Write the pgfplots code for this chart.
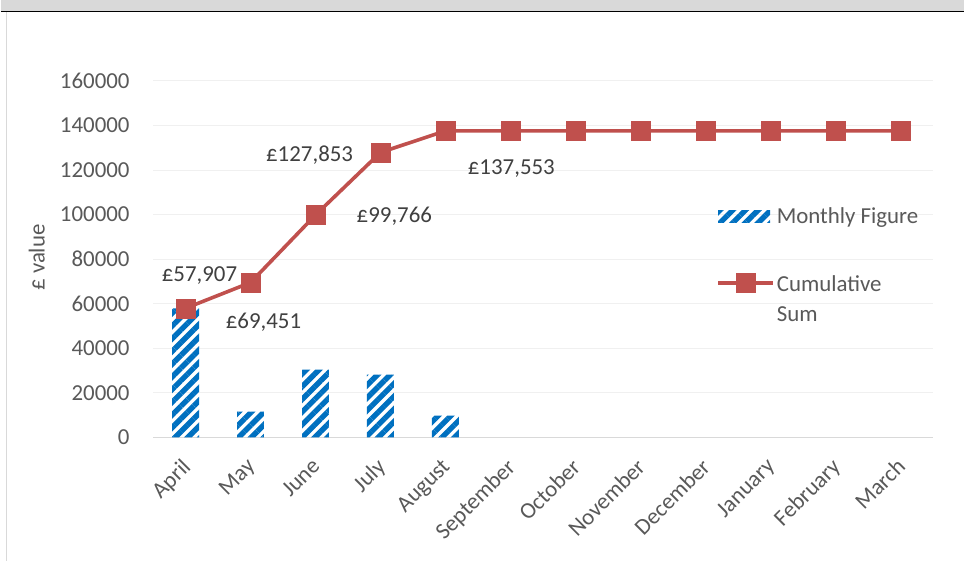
\documentclass[border=0pt]{standalone}
\usepackage{pgfplots}
\pgfplotsset{compat=1.18}
\usepackage{fontspec}
\setmainfont{Carlito}
\usetikzlibrary{patterns.meta}
\definecolor{barblue}{RGB}{0,112,192}
\definecolor{linered}{RGB}{192,80,77}
\definecolor{txtgrey}{RGB}{89,89,89}
\definecolor{lblgrey}{RGB}{64,64,64}
\definecolor{gridgrey}{RGB}{240,240,240}
\definecolor{axgrey}{RGB}{217,217,217}
\begin{document}
\begin{tikzpicture}[x=1bp,y=1bp]
% page bounds and frame (pixel coordinates relative to the axis origin at px (152.5,438))
\fill[white] (-152.5,-124) rectangle (812.5,438);
\fill[axgrey] (-152.5,427) rectangle (812.5,438);
\draw[black,line width=1.6bp] (-152.5,426.5) -- (812.5,426.5);
\fill[black] (-152.5,425.7) rectangle (-147.5,427.3);
\draw[axgrey,line width=1.2bp] (-147,425.7) -- (-147,-124);
\begin{axis}[
  at={(0,0)}, anchor=south west,
  scale only axis, width=781bp, height=357bp,
  xmin=-0.5, xmax=11.5, ymin=0, ymax=160000,
  clip=false,
  axis x line*=bottom, axis y line*=left,
  x axis line style={axgrey, line width=1.3bp, -},
  y axis line style={draw=none, -},
  ymajorgrids, grid style={gridgrey, line width=0.8bp},
  major tick length=0pt,
  xtick={0,...,11},
  xticklabels={April,May,June,July,August,September,October,November,December,January,February,March},
  ytick={0,20000,...,160000},
  scaled y ticks=false,
  /pgf/number format/fixed,
  /pgf/number format/1000 sep={},
  /pgf/number format/assume math mode=true,
  ticklabel style={font=\fontsize{23}{26}\selectfont, text=txtgrey},
  yticklabel style={xshift=-20bp},
  xticklabel style={xshift=-5bp, yshift=-15bp, rotate=45, anchor=north east},
  ylabel={£ value},
  every axis y label/.style={at={(-116.5bp,180bp)}, rotate=90, anchor=center,
    font=\fontsize{23}{26}\selectfont, text=txtgrey},
  legend style={at={(axis cs:8.12,105000)}, anchor=north west, draw=none, fill=none,
    font=\fontsize{23}{27}\selectfont, text=txtgrey, row sep=44bp,
    nodes={inner sep=2bp}},
  legend cell align=left,
]
\addplot[ybar, bar width=27bp, draw=none,
  pattern={Lines[angle=45, distance=9bp, line width=5.4bp]}, pattern color=barblue,
  legend image code/.code={
    \fill[pattern={Lines[angle=45, distance=9bp, line width=5.4bp]}, pattern color=barblue] (0bp,-6bp) rectangle (52bp,6bp);}
] coordinates {
  (0,57907) (1,11544) (2,30315) (3,28087) (4,9700)
};
\addlegendentry{Monthly Figure}
\addplot[linered, line width=3.6bp, mark=square*, mark size=9.5bp,
  mark options={fill=linered, draw=linered, line width=0.5bp},
  legend image code/.code={
    \draw[mark repeat=2, mark phase=2] plot coordinates {(0bp,0bp) (27.5bp,0bp) (55bp,0bp)};}
] coordinates {
  (0,57907) (1,69451) (2,99766) (3,127853) (4,137553)
  (5,137553) (6,137553) (7,137553) (8,137553) (9,137553) (10,137553) (11,137553)
};
\addlegendentry{\begin{tabular}[t]{@{}l@{}}Cumulative\\[3bp]Sum\end{tabular}}
\begin{scope}[every node/.style={font=\fontsize{23}{26}\selectfont, text=lblgrey, inner sep=0pt}]
\node at (axis cs:0,57907) [xshift=14bp, yshift=33bp] {£57,907};
\node at (axis cs:1,69451) [xshift=13bp, yshift=-40bp] {£69,451};
\node at (axis cs:2,99766) [xshift=79bp, yshift=-1bp] {£99,766};
\node at (axis cs:3,127853) [xshift=-71bp, yshift=-3bp] {£127,853};
\node at (axis cs:4,137553) [xshift=66bp, yshift=-38bp] {£137,553};
\end{scope}
\end{axis}
\end{tikzpicture}
\end{document}
